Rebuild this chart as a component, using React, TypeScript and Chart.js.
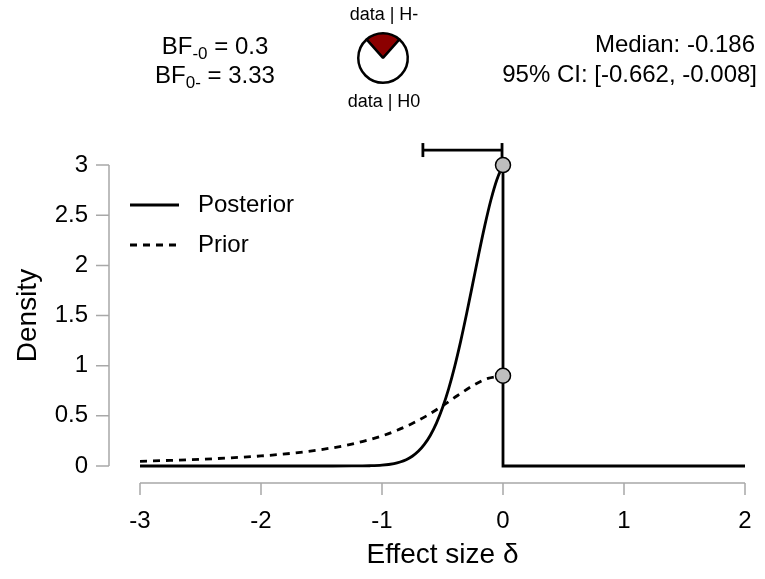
import React, { useEffect, useRef } from "react";
import { Chart, registerables } from "chart.js";
Chart.register(...registerables);

const FONT = "'Liberation Sans', Arial, Helvetica, sans-serif";

// Posterior density (delta < 0 side)
const posteriorX = [-3, -2.5, -2, -1.5, -1.25, -1.1, -1.0, -0.9, -0.85, -0.8, -0.75, -0.7, -0.65, -0.6, -0.55, -0.5, -0.45, -0.4, -0.35, -0.3, -0.25, -0.2, -0.15, -0.1, -0.05, 0];
const posteriorY = [0, 0, 0, 0, 0.0004, 0.0027, 0.0086, 0.0245, 0.04, 0.063, 0.097, 0.146, 0.215, 0.307, 0.427, 0.58, 0.767, 0.989, 1.243, 1.523, 1.818, 2.116, 2.399, 2.652, 2.857, 3.0];
// Posterior beyond the truncation point
const posteriorTailX = [0, 0, 2];
const posteriorTailY = [3.0, 0, 0];
// Prior density
const priorX = [-3, -2.75, -2.5, -2.25, -2, -1.75, -1.5, -1.25, -1, -0.875, -0.75, -0.625, -0.5, -0.375, -0.25, -0.125, 0];
const priorY = [0.047, 0.056, 0.067, 0.081, 0.1, 0.126, 0.164, 0.218, 0.3, 0.356, 0.424, 0.505, 0.6, 0.703, 0.8, 0.873, 0.9];
// Density heights at delta = 0
const heightX = [0, 0];
const heightY = [3.0, 0.9];

const xTicks = [-3, -2, -1, 0, 1, 2];
const xTickLabels = ["-3", "-2", "-1", "0", "1", "2"];
const yTicks = [0, 0.5, 1, 1.5, 2, 2.5, 3];
const yTickLabels = ["0", "0.5", "1", "1.5", "2", "2.5", "3"];

const bfLabels = ["-0", "0-"];
const bfValues = ["0.3", "3.33"];
const medianValue = "-0.186";
const ciBounds = [-0.662, -0.008];
const ciLabels = ["-0.662", "-0.008"];
const pieLabels = ["data | H-", "data | H0"];
const pieShares = [0.231, 0.769];

const pts = (xs: number[], ys: number[]) => xs.map((x, i) => ({ x, y: ys[i] }));

export default function App() {
  const mainRef = useRef<HTMLCanvasElement>(null);
  const pieRef = useRef<HTMLCanvasElement>(null);

  useEffect(() => {
    const decor = {
      id: "decor",
      afterDraw(chart: any) {
        const ctx = chart.ctx as CanvasRenderingContext2D;
        const xs = chart.scales.x;
        const ys = chart.scales.y;
        const area = chart.chartArea;
        const y0 = ys.getPixelForValue(yTicks[0]);
        const yTop = ys.getPixelForValue(yTicks[yTicks.length - 1]);
        ctx.save();
        // axes
        ctx.strokeStyle = "#a8a8a8";
        ctx.lineWidth = 1.5;
        const axY = y0 + 17;
        const axX = area.left - 31;
        ctx.beginPath();
        ctx.moveTo(xs.getPixelForValue(xTicks[0]), axY);
        ctx.lineTo(xs.getPixelForValue(xTicks[xTicks.length - 1]), axY);
        xTicks.forEach((t) => {
          const px = xs.getPixelForValue(t);
          ctx.moveTo(px, axY);
          ctx.lineTo(px, axY + 12);
        });
        ctx.moveTo(axX, y0);
        ctx.lineTo(axX, yTop);
        yTicks.forEach((t) => {
          const py = ys.getPixelForValue(t);
          ctx.moveTo(axX, py);
          ctx.lineTo(axX - 13, py);
        });
        ctx.stroke();

        ctx.fillStyle = "#000";
        ctx.font = `24px ${FONT}`;
        ctx.textAlign = "center";
        ctx.textBaseline = "middle";
        xTicks.forEach((t, i) => ctx.fillText(xTickLabels[i], xs.getPixelForValue(t), axY + 38));
        ctx.textAlign = "right";
        yTicks.forEach((t, i) => ctx.fillText(yTickLabels[i], axX - 21, ys.getPixelForValue(t)));

        // axis titles
        ctx.font = `28px ${FONT}`;
        ctx.textAlign = "center";
        ctx.fillText("Effect size \u03b4", (area.left + area.right) / 2, 555);
        ctx.save();
        ctx.translate(28, (y0 + yTop) / 2);
        ctx.rotate(-Math.PI / 2);
        ctx.fillText("Density", 0, 0);
        ctx.restore();

        // legend
        ctx.strokeStyle = "#000";
        ctx.lineWidth = 2.8;
        ctx.beginPath();
        ctx.moveTo(130, 205);
        ctx.lineTo(179, 205);
        ctx.stroke();
        ctx.setLineDash([7, 6]);
        ctx.beginPath();
        ctx.moveTo(130, 245);
        ctx.lineTo(179, 245);
        ctx.stroke();
        ctx.setLineDash([]);
        ctx.font = `24px ${FONT}`;
        ctx.textAlign = "left";
        ctx.fillText("Posterior", 198, 205);
        ctx.fillText("Prior", 198, 245);

        // BF texts
        const drawBF = (cx: number, cy: number, sub: string, val: string) => {
          const big = `24px ${FONT}`;
          const small = `17px ${FONT}`;
          ctx.font = big;
          const w1 = ctx.measureText("BF").width;
          ctx.font = small;
          const w2 = ctx.measureText(sub).width;
          ctx.font = big;
          const rest = " = " + val;
          const w3 = ctx.measureText(rest).width;
          let x = cx - (w1 + w2 + w3) / 2;
          const base = cy + 8.5;
          ctx.textAlign = "left";
          ctx.textBaseline = "alphabetic";
          ctx.font = big;
          ctx.fillText("BF", x, base);
          x += w1;
          ctx.font = small;
          ctx.fillText(sub, x, base + 5);
          x += w2;
          ctx.font = big;
          ctx.fillText(rest, x, base);
        };
        drawBF(215, 45, bfLabels[0], bfValues[0]);
        drawBF(215, 74, bfLabels[1], bfValues[1]);

        // median / CI
        ctx.textAlign = "right";
        ctx.textBaseline = "middle";
        ctx.font = `24px ${FONT}`;
        ctx.fillText(`Median: ${medianValue}`, 755, 45);
        ctx.fillText(`95% CI: [${ciLabels[0]}, ${ciLabels[1]}]`, 757, 75);

        // pie labels
        ctx.textAlign = "center";
        ctx.font = `18px ${FONT}`;
        ctx.fillText(pieLabels[0], 384, 15);
        ctx.fillText(pieLabels[1], 384, 102);
        ctx.restore();
      },
    };

    const ciY = 3.15;
    const chart = new Chart(mainRef.current as HTMLCanvasElement, {
      type: "line",
      data: {
        datasets: [
          {
            label: "heights",
            data: pts(heightX, heightY),
            showLine: false,
            pointRadius: 7.5,
            pointBackgroundColor: "#bebebe",
            pointBorderColor: "#000",
            pointBorderWidth: 1.5,
            clip: false as any,
          },
          {
            label: "ci",
            data: pts(ciBounds, [ciY, ciY]),
            borderColor: "#000",
            borderWidth: 2.8,
            pointStyle: "line",
            pointRotation: 90,
            pointRadius: 7,
            pointBorderColor: "#000",
            pointBorderWidth: 2.8,
            tension: 0,
            clip: false as any,
          },
          {
            label: "Posterior",
            data: pts(posteriorX, posteriorY),
            borderColor: "#000",
            borderWidth: 2.8,
            pointRadius: 0,
            cubicInterpolationMode: "monotone",
            clip: false as any,
          },
          {
            label: "PosteriorTail",
            data: pts(posteriorTailX, posteriorTailY),
            borderColor: "#000",
            borderWidth: 2.8,
            pointRadius: 0,
            tension: 0,
            clip: false as any,
          },
          {
            label: "Prior",
            data: pts(priorX, priorY),
            borderColor: "#000",
            borderWidth: 2.8,
            borderDash: [7, 6],
            pointRadius: 0,
            cubicInterpolationMode: "monotone",
            clip: false as any,
          },
        ],
      },
      options: {
        animation: false,
        responsive: false,
        devicePixelRatio: 1,
        layout: { padding: { left: 140, right: 20, top: 135, bottom: 113 } },
        scales: {
          x: { type: "linear", min: -3, max: 2, display: false },
          y: { type: "linear", min: 0, max: 3.3, display: false },
        },
        plugins: { legend: { display: false }, tooltip: { enabled: false } },
        events: [],
      },
      plugins: [decor],
    });

    const pie = new Chart(pieRef.current as HTMLCanvasElement, {
      type: "pie",
      data: {
        labels: pieLabels,
        datasets: [
          {
            data: pieShares,
            backgroundColor: ["#8b0000", "#ffffff"],
            borderColor: "#000",
            borderWidth: 2.5,
          },
        ],
      },
      options: {
        animation: false,
        responsive: false,
        devicePixelRatio: 1,
        rotation: -(pieShares[0] * 360) / 2,
        layout: { padding: 2 },
        plugins: { legend: { display: false }, tooltip: { enabled: false } },
        events: [],
      },
    });

    return () => {
      chart.destroy();
      pie.destroy();
    };
  }, []);

  return (
    <div style={{ position: "fixed", left: 0, top: 0, width: 765, height: 579, background: "#fff" }}>
      <canvas ref={mainRef} width={765} height={579} style={{ position: "absolute", left: 0, top: 0 }} />
      <canvas ref={pieRef} width={56} height={56} style={{ position: "absolute", left: 355, top: 30 }} />
    </div>
  );
}
